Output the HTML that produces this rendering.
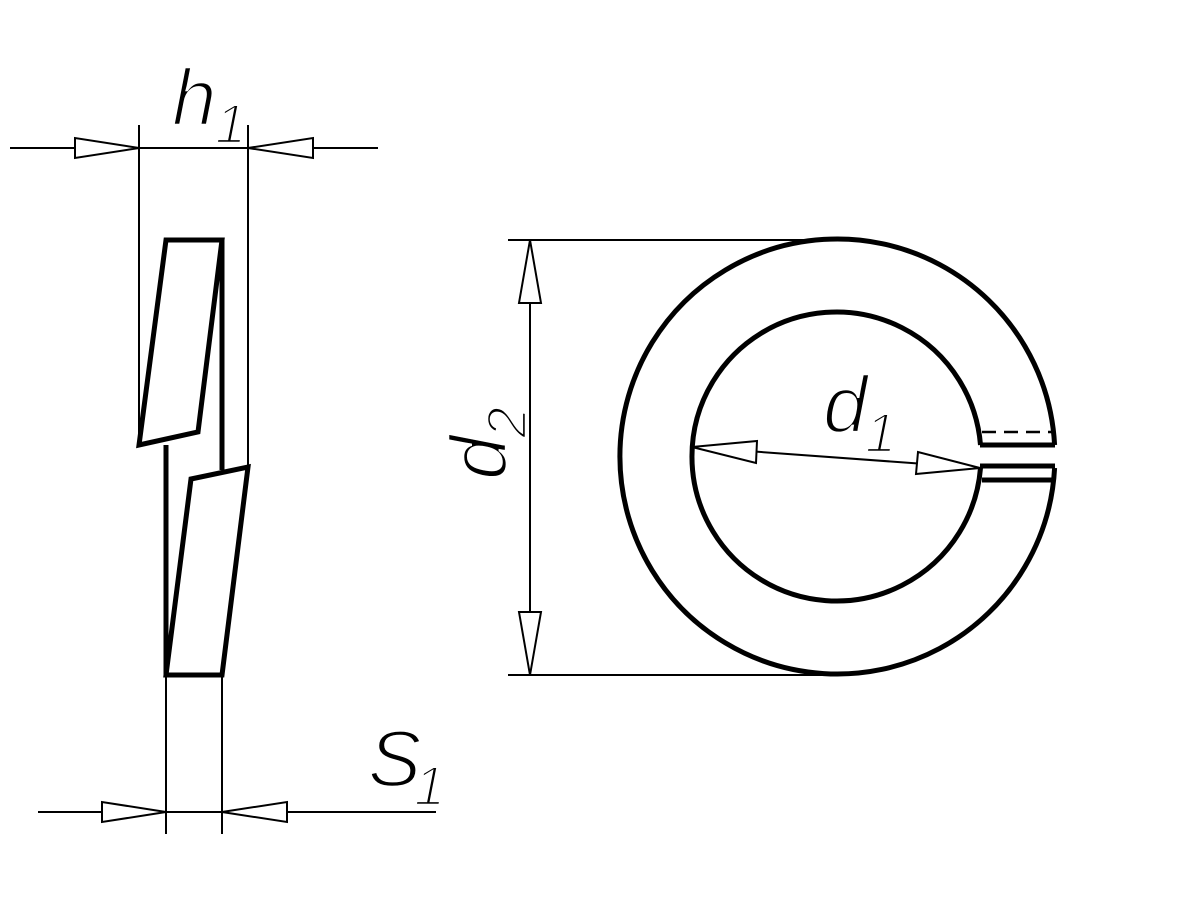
<!DOCTYPE html>
<html><head><style>body{margin:0;background:#fff}svg{display:block}</style></head><body>
<svg width="1200" height="900" viewBox="0 0 1200 900" xmlns="http://www.w3.org/2000/svg">
<g fill="none" stroke="#000">
 <g stroke-width="2">
  <line x1="139" y1="125" x2="139" y2="445"/>
  <line x1="248" y1="125" x2="248" y2="467"/>
  <line x1="10" y1="148" x2="378" y2="148"/>
  <line x1="166" y1="675" x2="166" y2="834"/>
  <line x1="222" y1="675" x2="222" y2="834"/>
  <line x1="38" y1="812" x2="436" y2="812"/>
  <line x1="508" y1="240" x2="837" y2="240"/>
  <line x1="508" y1="675" x2="837" y2="675"/>
  <line x1="530" y1="240" x2="530" y2="675"/>
  <line x1="692" y1="447" x2="980" y2="468"/>
 </g>
 <g stroke-width="2" fill="#fff">
  <polygon points="139,148 75,138 75,158"/>
  <polygon points="248,148 313,138 313,158"/>
  <polygon points="166,812 102,802 102,822"/>
  <polygon points="222,812 287,802 287,822"/>
  <polygon points="530,240 519,303 541,303"/>
  <polygon points="530,675 519,612 541,612"/>
  <polygon points="692,447 757,441 756,463"/>
  <polygon points="980,468 918,452 916,474"/>
 </g>
 <g stroke-width="5" stroke-linejoin="miter">
  <polygon points="166,240 222,240 198,432 139,445"/>
  <polygon points="191,479 248,467 222,675 166,675"/>
  <line x1="222" y1="240" x2="222" y2="470"/>
  <line x1="166" y1="445" x2="166" y2="675"/>
 </g>
 <g stroke-width="5">
  <path d="M1054.6,445 A217.5,217.5 0 1 0 1054.6,468 "/>
  <path d="M980.5,445 A144.5,144.5 0 1 0 980.5,468"/>
  <line x1="980" y1="445" x2="1055" y2="445"/>
  <line x1="980" y1="466" x2="1055" y2="466"/>
  <line x1="982" y1="480" x2="1054" y2="480"/>
 </g>
 <line x1="982" y1="432" x2="1054" y2="432" stroke-width="2.5" stroke-dasharray="14,8"/>
</g>
<g font-family="Liberation Sans, sans-serif" font-style="italic" fill="#000" stroke="#fff" stroke-width="2.5">
 <text x="172" y="125" font-size="80">h</text>
 <text x="215" y="143" font-size="56">1</text>
 <text x="823" y="432" font-size="80">d</text>
 <text x="865" y="452" font-size="56">1</text>
 <text x="368" y="786" font-size="80">S</text>
 <text x="414" y="805" font-size="56">1</text>
 <g transform="translate(506,480) rotate(-90)">
  <text x="0" y="0" font-size="80">d</text>
  <text x="42" y="20" font-size="56">2</text>
 </g>
</g>
</svg>
</body></html>
